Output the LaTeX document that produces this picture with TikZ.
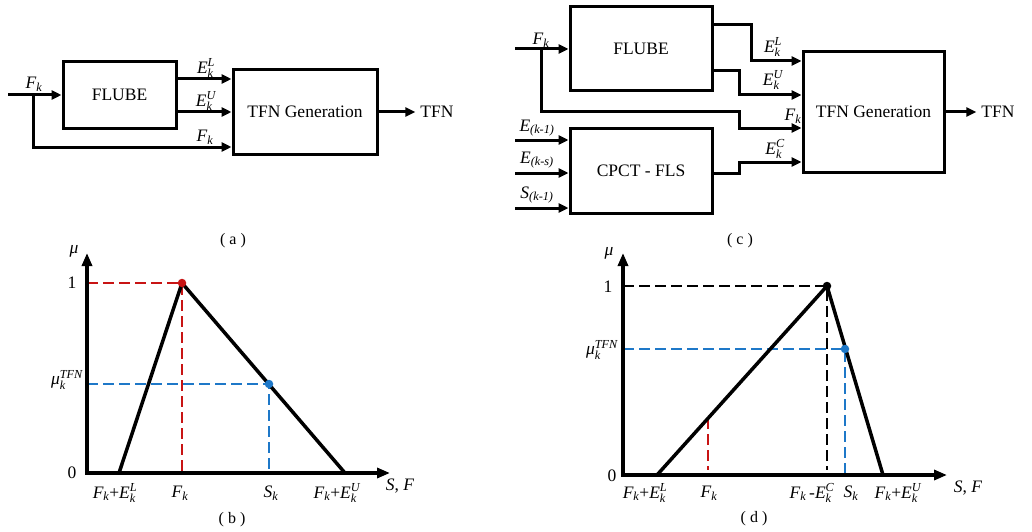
\documentclass[tikz,border=0pt]{standalone}
\usepackage{amsmath}
\usepackage{fontspec}
\setmainfont{Liberation Serif}
\usetikzlibrary{arrows.meta,calc}
\definecolor{dred}{RGB}{200,20,20}
\definecolor{dblue}{RGB}{30,120,200}
\newcommand{\itx}[1]{\textit{#1}}
\newcommand{\Fk}{$\itx{F}_{\itx{k}}$}
\newcommand{\Sk}{$\itx{S}_{\itx{k}}$}
\newcommand{\Ek}[1]{$\itx{E}_{\itx{k}}^{\itx{#1}}$}
\newcommand{\muk}{$\itx{μ}_{\itx{k}}^{\itx{TFN}}$}
\begin{document}
\begin{tikzpicture}[x=1pt,y=-1pt,
  every node/.style={font=\fontsize{17.5}{20}\selectfont, inner sep=0pt},
  blk/.style={draw, line width=3pt, inner sep=0pt},
  sig/.style={line width=3pt, -{Triangle[length=10pt,width=9pt]}},
  axs/.style={line width=3.2pt, line join=miter, {Triangle[length=13pt,width=10pt]}-{Triangle[length=13pt,width=10pt]}},
  tri/.style={line width=3.5pt, line join=round},
  dsh/.style={line width=1.7pt, dash pattern=on 11pt off 5pt},
  pdot/.style={circle, fill, inner sep=0pt, minimum size=8.5pt},
  captxt/.style={font=\fontsize{16}{19}\selectfont}]

\useasboundingbox (0,0) rectangle (1032,532);

% ---------------- panel (a)
\node[blk, minimum width=113pt, minimum height=66pt] (flubea) at (119.5,95) {FLUBE};
\node[blk, minimum width=144pt, minimum height=84pt] (tfna) at (305,112) {TFN Generation};
\coordinate (ina) at (8,95);
\coordinate (bra) at (33,95);
\coordinate (yaL) at (0,79);
\coordinate (yaU) at (0,112);
\coordinate (yaF) at (0,147);
\node (outtxta) at (437,112) {TFN};
\draw[sig] (ina) -- (flubea.west);
\draw[sig] (bra) |- (tfna.west |- yaF);
\draw[sig] (flubea.east |- yaL) -- (tfna.west |- yaL);
\draw[sig] (flubea.east |- yaU) -- (tfna.west |- yaU);
\draw[sig] (tfna.east) -- ([xshift=-5pt]outtxta.west);
\node (la1) at (34,84) {\Fk};
\node (la2) at (206,68) {\Ek{L}};
\node (la3) at (206,101) {\Ek{U}};
\node (la4) at (205,137) {\Fk};
\node[captxt] (capa) at (233,241) {( a )};

% ---------------- panel (c)
\node[blk, minimum width=142pt, minimum height=84pt] (flubec) at (641,49) {FLUBE};
\node[blk, minimum width=142pt, minimum height=85pt] (cpct) at (641,170.5) {CPCT - FLS};
\node[blk, minimum width=141pt, minimum height=120pt] (tfnc) at (873.5,112) {TFN Generation};
\node (outtxtc) at (998,112) {TFN};
\coordinate (inc) at (515,49);
\coordinate (brc) at (541,49);
\coordinate (fka) at (739,112);
\coordinate (fkb) at (739,128);
\coordinate (ela) at (751,25);
\coordinate (elb) at (751,61);
\coordinate (eua) at (739,71);
\coordinate (eub) at (739,95);
\coordinate (eca) at (739,173);
\coordinate (ecb) at (739,162);
\coordinate (in1) at (515,140);
\coordinate (in2) at (515,173);
\coordinate (in3) at (515,208);
\draw[sig] (inc) -- (flubec.west);
\draw[sig] (brc) |- (fka) -- (fkb) -- (tfnc.west |- fkb);
\draw[sig] (flubec.east |- ela) -- (ela) -- (elb) -- (tfnc.west |- elb);
\draw[sig] (flubec.east |- eua) -- (eua) -- (eub) -- (tfnc.west |- eub);
\draw[sig] (cpct.east |- eca) -- (eca) -- (ecb) -- (tfnc.west |- ecb);
\draw[sig] (in1) -- (cpct.west |- in1);
\draw[sig] (in2) -- (cpct.west |- in2);
\draw[sig] (in3) -- (cpct.west |- in3);
\draw[sig] (tfnc.east) -- ([xshift=-5pt]outtxtc.west);
\node (lc1) at (541,40) {\Fk};
\node (lc2) at (773,47) {\Ek{L}};
\node (lc3) at (773,80) {\Ek{U}};
\node (lc4) at (793,116) {\Fk};
\node (lc5) at (775,149) {\Ek{C}};
\node (lc6) at (537,128) {$\itx{E}_{\itx{(k-1)}}$};
\node (lc7) at (537,160) {$\itx{E}_{\itx{(k-s)}}$};
\node (lc8) at (537,195) {$\itx{S}_{\itx{(k-1)}}$};
\node[captxt] (capc) at (740,241) {( c )};

% ---------------- panel (b)
\coordinate (ob) at (87,473);
\coordinate (yb) at (87,253);
\coordinate (xb) at (390,473);
\coordinate (bl) at (119,473);
\coordinate (bp) at (182,283);
\coordinate (br) at (345,473);
\coordinate (bs) at (269,384);
\draw[dsh, dred] (ob |- bp) -- (bp) -- (bp |- ob);
\draw[dsh, dblue] (ob |- bs) -- (bs) -- (bs |- ob);
\draw[tri] (bl) -- (bp) -- (br);
\draw[axs] (yb) -- (ob) -- (xb);
\node[pdot, dred] (dotb1) at (bp) {};
\node[pdot, dblue] (dotb2) at (bs) {};
\node (lb1) at (74,251) {$\itx{μ}$};
\node (lb2) at (72,283) {1};
\node (lb3) at (72,473) {0};
\node (lb4) at (67,380) {\muk};
\node (lb5) at (115,493) {\Fk+\Ek{L}};
\node (lb6) at (180,493) {\Fk};
\node (lb7) at (271,493) {\Sk};
\node (lb8) at (337,493) {\Fk+\Ek{U}};
\node (lb9) at (400,486) {\itx{S}, \itx{F}};
\node[captxt] (capb) at (232,520) {( b )};

% ---------------- panel (d)
\coordinate (od) at (623,475);
\coordinate (yd) at (623,253);
\coordinate (xd) at (947,475);
\coordinate (dl) at (657,475);
\coordinate (dp) at (827,286);
\coordinate (dr) at (883,475);
\coordinate (ds) at (845,349);
\coordinate (df) at (708,418);
\coordinate (dfb) at (708,470);
\coordinate (dpb) at (827,470);
\draw[dsh, black] (od |- dp) -- (dp) -- (dpb);
\draw[dsh, dblue] (od |- ds) -- (ds) -- (ds |- od);
\draw[dsh, dred] (df) -- (dfb);
\draw[tri] (dl) -- (dp) -- (dr);
\draw[axs] (yd) -- (od) -- (xd);
\node[pdot, black] (dotd1) at (dp) {};
\node[pdot, dblue] (dotd2) at (ds) {};
\node (ld1) at (609,253) {$\itx{μ}$};
\node (ld2) at (608,287) {1};
\node (ld3) at (612,476) {0};
\node (ld4) at (602,350) {\muk};
\node (ld5) at (645,493) {\Fk+\Ek{L}};
\node (ld6) at (709,493) {\Fk};
\node (ld7) at (812,493) {\Fk\,-\Ek{C}};
\node (ld8) at (851,493) {\Sk};
\node (ld9) at (898,493) {\Fk+\Ek{U}};
\node (ld10) at (968,488) {\itx{S}, \itx{F}};
\node[captxt] (capd) at (754,519) {( d )};
\end{tikzpicture}
\end{document}
